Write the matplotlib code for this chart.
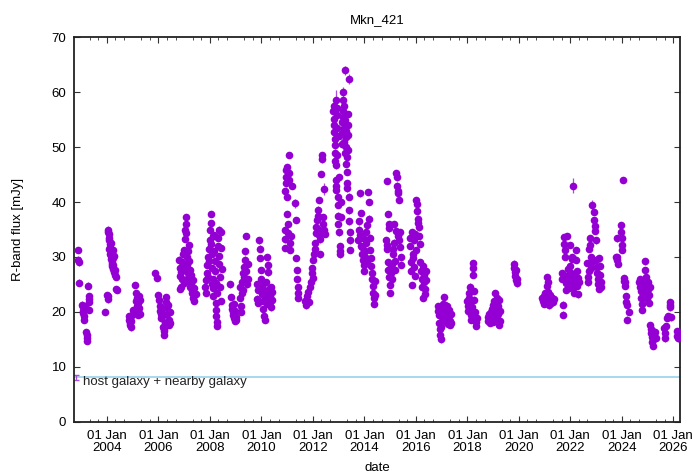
import datetime as dt
import matplotlib
matplotlib.use('Agg')
import matplotlib.pyplot as plt
import matplotlib.dates as mdates

plt.rcParams['font.family'] = ['Liberation Sans', 'DejaVu Sans']

# R-band light curve of Mkn 421, one pair of lists per observing season
# (decimal year, flux in mJy)
t_2003 = [2002.88, 2002.89, 2002.90, 2002.92, 2003.05, 2003.07, 2003.08, 2003.09, 2003.10, 2003.12,
          2003.13, 2003.14, 2003.20, 2003.21, 2003.22, 2003.23, 2003.28, 2003.29, 2003.30, 2003.31, 2003.32]
f_2003 = [31.3, 29.5, 29.0, 25.3, 21.3, 20.8, 20.2, 19.8, 19.2, 18.6,
          20.5, 21.0, 16.3, 15.8, 15.2, 14.7, 24.8, 22.8, 22.3, 21.8, 20.4]

t_2004 = [2003.92, 2004.02, 2004.03, 2004.05, 2004.05, 2004.06, 2004.07, 2004.08, 2004.09, 2004.10,
          2004.11, 2004.12, 2004.13, 2004.14, 2004.15, 2004.16, 2004.17, 2004.18, 2004.19, 2004.20,
          2004.21, 2004.22, 2004.23, 2004.24, 2004.25, 2004.27, 2004.28, 2004.30, 2004.32, 2004.34,
          2004.36, 2004.38]
f_2004 = [20.0, 23.1, 22.3, 22.8, 35.0, 34.6, 34.2, 33.5, 31.5, 33.0,
          30.5, 32.3, 31.8, 32.6, 31.0, 30.2, 29.6, 30.8, 29.0, 28.3,
          28.8, 29.8, 31.2, 27.8, 28.5, 30.2, 27.3, 26.8, 27.6, 26.4,
          24.2, 24.0]

t_2005 = [2004.84, 2004.86, 2004.88, 2004.90, 2004.93, 2004.95, 2004.97, 2005.00, 2005.10, 2005.12,
          2005.14, 2005.15, 2005.17, 2005.19, 2005.20, 2005.22, 2005.24, 2005.26, 2005.28, 2005.30]
f_2005 = [19.2, 18.6, 18.0, 17.6, 17.2, 18.3, 19.5, 20.3, 24.9, 23.4,
          22.0, 21.0, 22.5, 20.2, 19.4, 21.6, 22.8, 20.7, 19.6, 22.2]

t_2006 = [2005.88, 2005.96, 2006.00, 2006.02, 2006.05, 2006.07, 2006.09, 2006.10, 2006.12, 2006.14,
          2006.18, 2006.20, 2006.21, 2006.23, 2006.25, 2006.28, 2006.30, 2006.32, 2006.34, 2006.36,
          2006.38, 2006.40, 2006.42, 2006.44, 2006.46]
f_2006 = [27.1, 26.2, 23.0, 22.2, 21.0, 20.2, 19.6, 18.8, 20.6, 19.2,
          17.3, 16.5, 15.8, 16.8, 18.0, 22.7, 21.8, 20.8, 19.6, 18.4,
          21.2, 17.6, 18.6, 17.9, 20.0]

t_2007 = [2006.80, 2006.82, 2006.83, 2006.84, 2006.86, 2006.88, 2006.90, 2006.92, 2006.95, 2006.97,
          2006.99, 2007.01, 2007.03, 2007.04, 2007.06, 2007.07, 2007.08, 2007.10, 2007.12, 2007.13,
          2007.14, 2007.15, 2007.17, 2007.18, 2007.19, 2007.21, 2007.23, 2007.25, 2007.27, 2007.29,
          2007.31, 2007.33, 2007.35, 2007.37, 2007.39, 2007.40, 2007.45]
f_2007 = [29.5, 28.0, 24.2, 26.5, 24.5, 27.3, 29.0, 26.0, 30.5, 27.8,
          25.2, 31.2, 33.3, 35.0, 37.3, 36.0, 34.4, 30.0, 28.6, 27.0,
          31.0, 26.2, 29.2, 32.2, 25.6, 24.6, 27.6, 26.8, 25.0, 24.0,
          23.4, 22.5, 25.8, 24.3, 23.0, 22.0, 23.2]

t_2008 = [2007.82, 2007.84, 2007.86, 2007.88, 2007.90, 2007.92, 2007.94, 2007.96, 2007.98, 2008.00,
          2008.02, 2008.04, 2008.05, 2008.06, 2008.08, 2008.09, 2008.10, 2008.11, 2008.12, 2008.13,
          2008.14, 2008.16, 2008.17, 2008.19, 2008.20, 2008.22, 2008.23, 2008.24, 2008.25, 2008.26,
          2008.27, 2008.28, 2008.30, 2008.32, 2008.34, 2008.35, 2008.37, 2008.38, 2008.40, 2008.42,
          2008.44, 2008.45, 2008.47]
f_2008 = [24.5, 23.4, 25.8, 27.0, 28.5, 26.3, 30.0, 31.5, 29.2, 33.0,
          35.0, 37.8, 36.2, 32.3, 30.6, 25.0, 28.0, 26.0, 33.8, 24.3,
          22.8, 34.0, 31.0, 29.3, 27.4, 25.2, 21.6, 20.3, 19.2, 18.2,
          17.5, 23.5, 33.5, 32.0, 30.2, 28.8, 35.0, 26.4, 24.6, 22.0,
          34.5, 31.6, 27.8]

t_2009 = [2008.78, 2008.82, 2008.84, 2008.86, 2008.88, 2008.90, 2008.92, 2008.94, 2008.96, 2008.98,
          2009.00, 2009.02, 2009.16, 2009.18, 2009.20, 2009.22, 2009.24, 2009.26, 2009.28, 2009.30,
          2009.32, 2009.34, 2009.36, 2009.38, 2009.40, 2009.42, 2009.44, 2009.46, 2009.48]
f_2009 = [25.0, 22.7, 21.2, 20.6, 20.0, 19.4, 21.5, 18.8, 18.3, 20.2,
          19.0, 18.6, 24.5, 22.6, 21.0, 20.0, 23.5, 25.5, 27.0, 24.0,
          26.3, 28.2, 29.5, 31.0, 27.5, 33.8, 25.0, 26.0, 28.8]

t_2010 = [2009.82, 2009.84, 2009.86, 2009.88, 2009.92, 2009.94, 2009.96, 2009.98, 2010.00, 2010.02,
          2010.04, 2010.06, 2010.08, 2010.10, 2010.12, 2010.14, 2010.16, 2010.18, 2010.20, 2010.22,
          2010.24, 2010.26, 2010.28, 2010.30, 2010.32, 2010.34, 2010.36, 2010.38, 2010.40, 2010.42]
f_2010 = [25.0, 22.4, 21.6, 24.0, 33.0, 31.5, 29.8, 27.6, 26.0, 24.8,
          23.2, 22.0, 20.5, 19.2, 18.6, 23.8, 25.4, 22.6, 21.4, 30.0,
          28.6, 27.2, 24.2, 23.0, 21.8, 22.8, 24.5, 20.8, 22.2, 23.6]

t_2011 = [2010.90, 2010.91, 2010.92, 2010.93, 2010.95, 2010.96, 2010.97, 2010.99, 2011.00, 2011.01,
          2011.03, 2011.04, 2011.06, 2011.07, 2011.08, 2011.10, 2011.12, 2011.14, 2011.20, 2011.34,
          2011.35, 2011.39, 2011.40, 2011.41, 2011.42, 2011.43]
f_2011 = [33.2, 31.6, 35.0, 42.0, 44.6, 45.8, 43.4, 46.3, 41.0, 37.8,
          36.0, 34.4, 48.6, 45.3, 44.0, 32.5, 31.3, 33.8, 43.0, 36.7,
          29.8, 27.6, 26.0, 24.5, 23.5, 22.6]

t_2012 = [2011.68, 2011.72, 2011.76, 2011.80, 2011.84, 2011.88, 2011.92, 2011.95, 2011.97, 2012.00,
          2012.02, 2012.05, 2012.08, 2012.10, 2012.12, 2012.14, 2012.16, 2012.18, 2012.20, 2012.22,
          2012.24, 2012.25, 2012.26, 2012.28, 2012.32, 2012.36, 2012.37, 2012.38, 2012.40, 2012.45,
          2012.47]
f_2012 = [22.0, 21.2, 22.8, 23.6, 21.8, 24.5, 25.5, 27.0, 28.0, 26.2,
          29.5, 30.5, 31.4, 32.5, 34.4, 35.5, 36.7, 37.5, 38.6, 40.4,
          35.0, 34.0, 33.2, 30.5, 45.1, 48.5, 47.8, 37.3, 36.0, 35.0,
          34.2]

t_2013 = [2012.78, 2012.80, 2012.81, 2012.82, 2012.83, 2012.84, 2012.85, 2012.86, 2012.87, 2012.88,
          2012.89, 2012.90, 2012.91, 2012.92, 2012.93, 2012.94, 2012.95, 2012.96, 2012.97, 2012.98,
          2012.99, 2013.00, 2013.01, 2013.02, 2013.04, 2013.05, 2013.06, 2013.08, 2013.10, 2013.12,
          2013.13, 2013.14, 2013.15, 2013.16, 2013.18, 2013.19, 2013.20, 2013.22, 2013.23, 2013.26,
          2013.27, 2013.28, 2013.29, 2013.30, 2013.31, 2013.32, 2013.34, 2013.35, 2013.36, 2013.37,
          2013.38, 2013.39, 2013.40, 2013.42, 2013.43, 2013.44, 2013.45]
f_2013 = [56.5, 57.5, 55.2, 54.0, 52.8, 51.5, 50.3, 49.0, 47.5, 44.0,
          43.0, 42.2, 46.7, 53.5, 55.8, 57.2, 48.5, 41.0, 39.5, 37.5,
          36.0, 34.5, 44.5, 52.0, 30.5, 32.0, 31.0, 37.2, 40.0, 50.5,
          52.5, 54.5, 56.5, 58.5, 55.5, 53.5, 51.0, 57.5, 49.0, 55.0,
          53.0, 51.8, 50.0, 47.0, 45.5, 43.5, 42.5, 56.0, 54.0, 52.2,
          49.5, 41.0, 38.5, 36.5, 34.5, 33.0, 31.3]

t_2014 = [2013.76, 2013.78, 2013.80, 2013.82, 2013.84, 2013.86, 2013.88, 2013.90, 2013.92, 2013.94,
          2013.96, 2013.98, 2014.00, 2014.02, 2014.04, 2014.06, 2014.08, 2014.10, 2014.12, 2014.14,
          2014.16, 2014.18, 2014.20, 2014.22, 2014.24, 2014.26, 2014.28, 2014.30, 2014.32, 2014.34,
          2014.36, 2014.38, 2014.40, 2014.42]
f_2014 = [33.0, 35.0, 36.5, 34.0, 41.6, 38.0, 32.0, 30.5, 31.8, 29.5,
          33.5, 27.5, 28.6, 31.0, 30.0, 34.5, 32.5, 29.0, 35.8, 41.8,
          40.0, 37.0, 33.5, 31.3, 29.8, 28.3, 27.0, 26.0, 24.8, 23.5,
          22.5, 21.5, 25.6, 23.0]

t_2015 = [2014.84, 2014.86, 2014.88, 2014.89, 2014.90, 2014.92, 2014.93, 2014.94, 2014.95, 2014.96,
          2014.98, 2015.00, 2015.02, 2015.04, 2015.06, 2015.08, 2015.10, 2015.12, 2015.14, 2015.16,
          2015.18, 2015.20, 2015.22, 2015.24, 2015.26, 2015.28, 2015.29, 2015.30, 2015.32, 2015.34,
          2015.36, 2015.38, 2015.40, 2015.42, 2015.44]
f_2015 = [33.0, 31.5, 32.2, 43.8, 29.0, 37.8, 27.6, 36.0, 26.4, 35.2,
          24.9, 23.4, 28.3, 27.0, 26.0, 28.8, 30.6, 31.5, 32.6, 36.0,
          29.2, 27.6, 34.8, 45.2, 44.5, 43.0, 33.8, 42.0, 41.6, 40.4,
          33.0, 34.5, 31.8, 30.0, 28.6]

t_2016 = [2015.76, 2015.78, 2015.80, 2015.82, 2015.84, 2015.86, 2015.88, 2015.90, 2015.92, 2015.94,
          2015.96, 2015.98, 2016.00, 2016.02, 2016.04, 2016.06, 2016.08, 2016.10, 2016.12, 2016.14,
          2016.16, 2016.18, 2016.20, 2016.22, 2016.24, 2016.26, 2016.28, 2016.30, 2016.32, 2016.34,
          2016.36, 2016.38, 2016.40]
f_2016 = [33.5, 32.0, 29.0, 27.5, 24.9, 34.5, 30.5, 29.8, 33.0, 28.2,
          26.6, 34.2, 31.2, 40.4, 39.6, 38.3, 37.0, 36.2, 35.4, 33.8,
          32.4, 29.0, 27.4, 26.0, 24.6, 22.6, 28.4, 26.8, 25.4, 24.2,
          23.2, 27.4, 25.8]

t_2017 = [2016.84, 2016.86, 2016.88, 2016.90, 2016.92, 2016.94, 2016.96, 2016.98, 2017.00, 2017.02,
          2017.04, 2017.06, 2017.08, 2017.10, 2017.12, 2017.14, 2017.16, 2017.18, 2017.20, 2017.22,
          2017.24, 2017.26, 2017.28, 2017.30, 2017.32, 2017.34, 2017.36, 2017.38]
f_2017 = [21.0, 20.2, 19.5, 18.0, 16.8, 15.8, 15.0, 17.2, 19.0, 20.6,
          21.5, 18.6, 20.0, 22.7, 19.4, 21.2, 20.5, 18.2, 19.8, 21.0,
          18.8, 17.8, 19.2, 20.4, 18.4, 17.6, 19.6, 18.0]

t_2018 = [2018.00, 2018.02, 2018.04, 2018.06, 2018.08, 2018.10, 2018.12, 2018.14, 2018.16, 2018.18,
          2018.20, 2018.21, 2018.22, 2018.24, 2018.26, 2018.28, 2018.30, 2018.32, 2018.34, 2018.36]
f_2018 = [22.0, 21.0, 20.2, 23.5, 22.5, 24.6, 21.6, 19.5, 18.6, 20.8,
          28.9, 28.0, 26.7, 23.8, 22.2, 20.0, 19.0, 18.2, 17.5, 18.8]

t_2019 = [2018.80, 2018.82, 2018.84, 2018.86, 2018.88, 2018.90, 2018.92, 2018.94, 2018.96, 2018.98,
          2019.00, 2019.02, 2019.04, 2019.06, 2019.08, 2019.10, 2019.12, 2019.14, 2019.16, 2019.18,
          2019.20, 2019.22, 2019.24, 2019.26, 2019.28]
f_2019 = [19.0, 18.4, 19.6, 18.0, 19.2, 20.0, 18.6, 20.6, 19.8, 21.2,
          18.2, 22.0, 20.4, 23.4, 21.6, 19.4, 20.8, 22.6, 18.8, 21.0,
          19.6, 22.2, 17.6, 20.2, 18.4]

t_2020 = [2019.80, 2019.82, 2019.84, 2019.86, 2019.88, 2019.90, 2019.92, 2019.94]
f_2020 = [28.8, 28.0, 27.2, 26.6, 25.8, 27.6, 26.0, 25.2]

t_2021 = [2020.90, 2020.93, 2020.96, 2020.99, 2021.02, 2021.05, 2021.08, 2021.10, 2021.12, 2021.14,
          2021.16, 2021.18, 2021.20, 2021.22, 2021.25, 2021.28, 2021.32, 2021.36]
f_2021 = [22.6, 22.0, 21.4, 22.8, 23.4, 22.2, 24.8, 26.3, 25.4, 23.6,
          22.4, 21.2, 22.0, 23.0, 21.6, 22.6, 21.8, 22.4]

t_2022 = [2021.66, 2021.68, 2021.70, 2021.72, 2021.74, 2021.76, 2021.78, 2021.80, 2021.82, 2021.84,
          2021.86, 2021.88, 2021.90, 2021.92, 2021.94, 2021.96, 2021.98, 2022.00, 2022.02, 2022.04,
          2022.06, 2022.08, 2022.12, 2022.14, 2022.16, 2022.18, 2022.20, 2022.22, 2022.24, 2022.26,
          2022.28, 2022.30, 2022.32]
f_2022 = [26.0, 27.0, 21.3, 19.5, 33.6, 32.4, 31.2, 30.0, 25.2, 24.0,
          26.6, 33.8, 27.8, 25.6, 24.4, 26.2, 32.2, 28.4, 25.0, 27.0,
          29.6, 30.0, 26.8, 24.6, 23.4, 25.8, 29.5, 31.3, 27.4, 24.8,
          26.2, 23.2, 25.4]

t_2023 = [2022.66, 2022.68, 2022.70, 2022.72, 2022.74, 2022.76, 2022.78, 2022.80, 2022.82, 2022.84,
          2022.90, 2022.92, 2022.94, 2022.96, 2022.98, 2023.00, 2023.02, 2023.04, 2023.06, 2023.08,
          2023.10, 2023.12, 2023.14, 2023.16, 2023.18, 2023.20]
f_2023 = [28.9, 26.4, 25.4, 27.5, 31.5, 33.4, 32.2, 30.0, 28.0, 29.0,
          38.2, 36.7, 35.6, 34.8, 33.0, 29.5, 28.2, 27.0, 26.0, 25.0,
          24.2, 29.8, 28.4, 26.8, 25.4, 24.5]

t_2024 = [2023.78, 2023.80, 2023.82, 2023.83, 2023.86, 2023.97, 2023.98, 2023.99, 2024.00, 2024.01,
          2024.08, 2024.10, 2024.12, 2024.14, 2024.16, 2024.18, 2024.20, 2024.22, 2024.26]
f_2024 = [30.0, 33.4, 30.0, 29.4, 28.8, 35.8, 34.6, 33.4, 32.2, 31.3,
          26.2, 25.6, 24.8, 25.4, 22.8, 21.8, 21.2, 18.6, 20.0]

t_2025 = [2024.68, 2024.70, 2024.72, 2024.74, 2024.76, 2024.78, 2024.80, 2024.82, 2024.84, 2024.86,
          2024.88, 2024.90, 2024.92, 2024.94, 2024.96, 2024.98, 2025.00, 2025.02, 2025.04, 2025.06,
          2025.08, 2025.10, 2025.12, 2025.14, 2025.16, 2025.18, 2025.20, 2025.22, 2025.26, 2025.30,
          2025.34]
f_2025 = [25.5, 24.6, 26.0, 23.8, 22.6, 21.5, 20.4, 23.2, 24.4, 25.2,
          29.2, 27.6, 26.4, 25.0, 23.8, 22.4, 24.2, 25.4, 23.0, 21.6,
          24.6, 17.6, 16.8, 16.2, 15.5, 14.6, 13.8, 15.0, 15.8, 16.4,
          15.2]

t_2026 = [2025.64, 2025.66, 2025.68, 2025.72, 2025.76, 2025.80, 2025.86, 2025.88, 2025.90,
          2026.14, 2026.16, 2026.18, 2026.22]
f_2026 = [17.0, 16.2, 15.2, 17.4, 18.9, 19.2, 21.2, 20.8, 19.0,
          16.5, 15.6, 15.2, 16.2]

# points whose error bars stand out beyond the marker
big_t = [2012.88, 2013.18, 2013.25, 2013.33, 2013.41, 2012.43, 2011.31, 2022.10, 2022.84, 2024.05, 2025.87]
big_f = [58.5, 60.0, 64.0, 48.2, 62.4, 42.4, 39.8, 43.0, 39.5, 44.0, 21.8]
big_e = [1.9, 1.0, 0.8, 1.9, 0.9, 1.1, 0.8, 1.4, 0.9, 0.4, 0.6]

host_flux = 8.1
host_err = 0.45
host_t = 2002.80

tick_years = [2004, 2006, 2008, 2010, 2012, 2014, 2016, 2018, 2020, 2022, 2024, 2026]


def to_date(y):
    year = int(y)
    start = dt.datetime(year, 1, 1)
    return start + (dt.datetime(year + 1, 1, 1) - start) * (y - year)


seasons = [(t_2003, f_2003), (t_2004, f_2004), (t_2005, f_2005), (t_2006, f_2006),
           (t_2007, f_2007), (t_2008, f_2008), (t_2009, f_2009), (t_2010, f_2010),
           (t_2011, f_2011), (t_2012, f_2012), (t_2013, f_2013), (t_2014, f_2014),
           (t_2015, f_2015), (t_2016, f_2016), (t_2017, f_2017), (t_2018, f_2018),
           (t_2019, f_2019), (t_2020, f_2020), (t_2021, f_2021), (t_2022, f_2022),
           (t_2023, f_2023), (t_2024, f_2024), (t_2025, f_2025), (t_2026, f_2026)]

dates = []
flux = []
for t, f in seasons:
    dates += [to_date(y) for y in t]
    flux += f

violet = '#9400D3'
bar_col = '#a64ee0'

fig = plt.figure(figsize=(6.92, 4.76), dpi=100)
ax = fig.add_axes([0.1069, 0.1141, 0.8758, 0.8075])

# host galaxy contribution
ax.axhline(host_flux, color='#9fd6ee', lw=1.3, zorder=1)
ax.errorbar([to_date(host_t)], [host_flux], yerr=host_err, fmt='none',
            ecolor=bar_col, elinewidth=0.9, capsize=2, zorder=2)
ax.text(to_date(2003.08), 6.7, 'host galaxy + nearby galaxy', fontsize=9.5,
        color='#222222', va='baseline', ha='left')

ax.errorbar(dates, flux, yerr=0.6, fmt='o', ms=5.5, mew=0, color=violet,
            ecolor=bar_col, elinewidth=0.8, capsize=2, zorder=3)
ax.errorbar([to_date(y) for y in big_t], big_f, yerr=big_e, fmt='o', ms=5.5, mew=0,
            color=violet, ecolor=bar_col, elinewidth=0.9, capsize=2.5, zorder=3)

ax.set_xlim(to_date(2002.72), to_date(2026.26))
ax.set_ylim(0, 70)
ax.set_yticks(range(0, 71, 10))

ax.set_xticks([to_date(y) for y in tick_years], ['01 Jan\n%d' % y for y in tick_years])
ax.xaxis.set_minor_locator(mdates.MonthLocator(bymonth=(5, 9)))
for lbl in ax.get_xticklabels():
    lbl.set_linespacing(1.0)

ax.tick_params(which='both', direction='in', top=True, right=True, labelsize=9.5,
               color='#333333')
ax.tick_params(axis='x', which='major', length=4.5, pad=6)
ax.tick_params(axis='x', which='minor', length=2)
ax.tick_params(axis='y', which='major', length=4.5, pad=5.5)
for sp in ax.spines.values():
    sp.set_linewidth(1.3)
    sp.set_color('#222222')

ax.set_title('Mkn_421', fontsize=9.5, pad=10.5)
ax.set_xlabel('date', fontsize=9.5)
ax.set_ylabel('R-band flux [mJy]', fontsize=9.5)
ax.xaxis.set_label_coords(0.5, -0.106)
ax.yaxis.set_label_coords(-0.082, 0.5)

fig.savefig('out.png', dpi=100)
